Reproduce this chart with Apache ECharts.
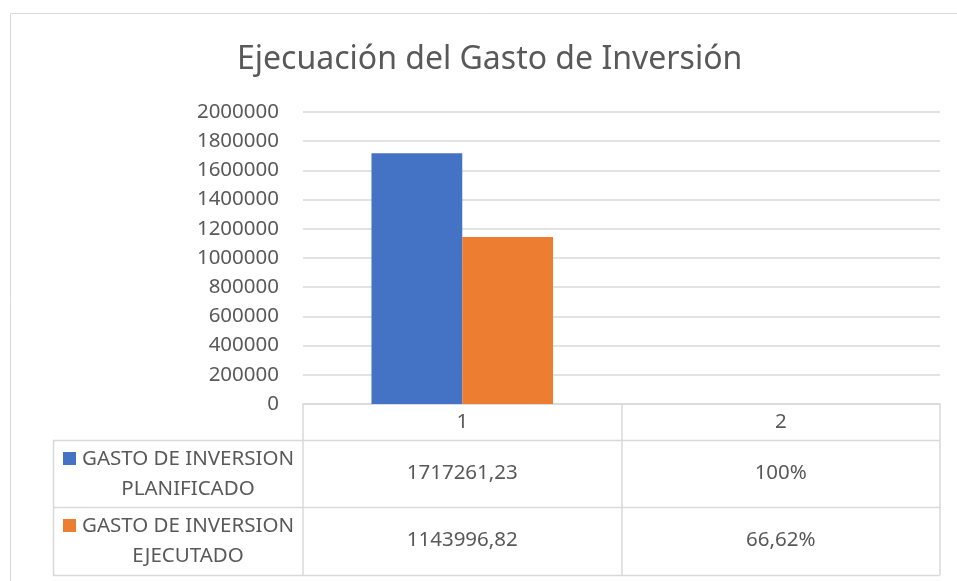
<!DOCTYPE html>
<html>
<head>
<meta charset="utf-8">
<style>
  html, body { margin: 0; padding: 0; background: #ffffff; }
  #chart { width: 957px; height: 581px; }
</style>
<script src="https://cdn.jsdelivr.net/npm/echarts@6/dist/echarts.min.js"></script>
</head>
<body>
<div id="chart"></div>
<script>
// ---- Data ----
const titleText = 'Ejecuación del Gasto de Inversión';
const categories = ['1', '2'];
const seriesNames = ['GASTO DE INVERSION PLANIFICADO', 'GASTO DE INVERSION EJECUTADO'];
const legendLines = [['GASTO DE INVERSION', 'PLANIFICADO'], ['GASTO DE INVERSION', 'EJECUTADO']];
const planned = [1717261.23, 1];
const executed = [1143996.82, 0.6662];
const plannedText = ['1717261,23', '100%'];
const executedText = ['1143996,82', '66,62%'];
const yMin = 0, yMax = 2000000, yStep = 200000;

// ---- Styling / layout ----
const colors = ['#4472C4', '#ED7D31'];
const textColor = '#595959';
const lineColor = '#d9d9d9';
const font = 'Noto Sans';
const fs = 20.5;
const grid = { left: 303, right: 17, top: 112, bottom: 177 };
const W = 957, H = 581;
const axisY = H - grid.bottom;        // 404
const headerH = 36, rowH = 67;
const tableLeft = 53;
const tableRight = W - grid.right;
const rowTops = [axisY + headerH, axisY + headerH + rowH, axisY + headerH + 2 * rowH + 1];

const chart = echarts.init(document.getElementById('chart'), null, { renderer: 'canvas' });

const graphics = [
  { type: 'rect', shape: { x: 10.5, y: 13.5, width: 1000, height: 700 }, style: { fill: 'none', stroke: lineColor, lineWidth: 1 }, silent: true }
];
rowTops.forEach(y => {
  graphics.push({ type: 'line', shape: { x1: tableLeft, y1: y + 0.5, x2: tableRight, y2: y + 0.5 }, style: { stroke: lineColor, lineWidth: 1.5 }, silent: true });
});
graphics.push({ type: 'line', shape: { x1: tableLeft + 0.5, y1: rowTops[0], x2: tableLeft + 0.5, y2: rowTops[2] + 1 }, style: { stroke: lineColor, lineWidth: 1.5 }, silent: true });
legendLines.forEach((lines, i) => {
  const top = rowTops[0] + i * rowH;
  graphics.push({ type: 'rect', shape: { x: 63, y: top + 12, width: 13, height: 13 }, style: { fill: colors[i] }, silent: true });
  graphics.push({
    type: 'text', x: 188, y: top + 4,
    style: { text: lines.join('\n'), fill: textColor, fontFamily: font, fontSize: fs, align: 'center', verticalAlign: 'top', lineHeight: 30 },
    silent: true
  });
});

const option = {
  animation: false,
  backgroundColor: '#ffffff',
  textStyle: { fontFamily: font },
  title: {
    text: titleText, left: 232, top: 39,
    textStyle: { fontFamily: font, fontSize: 32, fontWeight: 'normal', color: textColor }
  },
  grid: { left: grid.left, right: grid.right, top: grid.top, bottom: grid.bottom, containLabel: false },
  xAxis: {
    type: 'category', data: categories,
    axisLine: { show: true, lineStyle: { color: lineColor, width: 1.5 } },
    axisTick: { show: true, alignWithLabel: false, length: headerH + 2 * rowH + 1, lineStyle: { color: lineColor, width: 1.5 } },
    axisLabel: {
      margin: 0, interval: 0,
      formatter: (v, i) => '{h|' + v + '}\n{a|' + plannedText[i] + '}\n{b|' + executedText[i] + '}',
      rich: {
        h: { fontSize: fs, color: textColor, fontFamily: font, lineHeight: headerH, align: 'center' },
        a: { fontSize: fs, color: textColor, fontFamily: font, lineHeight: rowH, align: 'center' },
        b: { fontSize: fs, color: textColor, fontFamily: font, lineHeight: rowH, align: 'center' }
      }
    }
  },
  yAxis: {
    type: 'value', min: yMin, max: yMax, interval: yStep,
    axisLine: { show: false }, axisTick: { show: false },
    axisLabel: { fontSize: fs, color: textColor, fontFamily: font, margin: 24, formatter: v => String(v) },
    splitLine: { lineStyle: { color: lineColor, width: 1.5 } }
  },
  series: [
    { name: seriesNames[0], type: 'bar', data: planned, itemStyle: { color: colors[0] }, barGap: '0%', barCategoryGap: '43%' },
    { name: seriesNames[1], type: 'bar', data: executed, itemStyle: { color: colors[1] }, barGap: '0%', barCategoryGap: '43%' }
  ],
  graphic: graphics
};
chart.setOption(option);
</script>
</body>
</html>
